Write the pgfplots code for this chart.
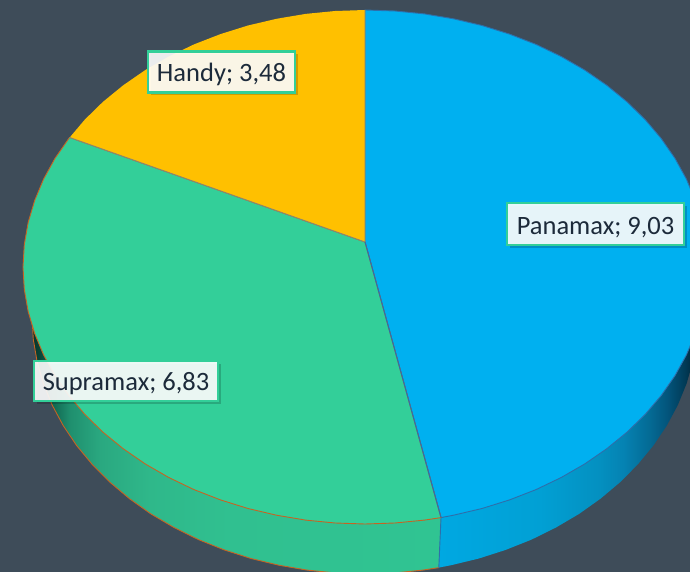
\documentclass[border=0pt]{standalone}
\usepackage{fontspec}
\setmainfont{Carlito}
\usepackage{pgfplots}
\pgfplotsset{compat=1.18}
\usetikzlibrary{shadows}
\definecolor{slateBg}{RGB}{62,76,89}
\definecolor{pieBlue}{RGB}{0,176,240}
\definecolor{pieGreen}{RGB}{51,207,153}
\definecolor{pieYellow}{RGB}{255,192,0}
\definecolor{edgeBlue}{RGB}{46,110,170}
\definecolor{edgeOrange}{RGB}{197,100,35}
\definecolor{edgeGrey}{RGB}{135,135,115}
\definecolor{labelInk}{RGB}{28,42,58}
\definecolor{gw0}{RGB}{6,50,40}
\definecolor{gw1}{RGB}{10,85,68}
\definecolor{gw2}{RGB}{31,143,110}
\definecolor{gw3}{RGB}{42,168,128}
\definecolor{gw4}{RGB}{47,184,138}
\definecolor{gw5}{RGB}{48,192,144}
\definecolor{gw6}{RGB}{48,196,146}
\definecolor{bw0}{RGB}{0,168,226}
\definecolor{bw1}{RGB}{1,160,212}
\definecolor{bw2}{RGB}{4,144,192}
\definecolor{bw2b}{RGB}{5,130,178}
\definecolor{bw3}{RGB}{4,106,148}
\definecolor{bw3b}{RGB}{3,85,124}
\definecolor{bw4}{RGB}{1,58,86}
\definecolor{bw5}{RGB}{0,32,47}
\pgfdeclarehorizontalshading{wallGreen}{100bp}{
  color(0bp)=(gw0);
  color(25bp)=(gw0);
  color(26.6bp)=(gw1);
  color(29.6bp)=(gw2);
  color(33.3bp)=(gw3);
  color(39.4bp)=(gw4);
  color(49.2bp)=(gw5);
  color(75bp)=(gw6);
  color(100bp)=(gw6)}
\pgfdeclarehorizontalshading{wallBlue}{100bp}{
  color(0bp)=(bw0);
  color(25bp)=(bw0);
  color(44.5bp)=(bw1);
  color(56bp)=(bw2);
  color(60.7bp)=(bw2b);
  color(65.7bp)=(bw3);
  color(69bp)=(bw3b);
  color(72.5bp)=(bw4);
  color(75bp)=(bw5);
  color(100bp)=(bw5)}
\tikzset{pielabel/.style={draw=pieGreen, line width=2.8pt, fill=white, fill opacity=0.9,
  text opacity=1, text=labelInk, inner sep=0pt, anchor=center,
  font=\fontsize{26.5}{30}\selectfont,
  drop shadow={shadow xshift=3pt, shadow yshift=-3pt, opacity=0.18, fill=black}}}
\newcommand{\lbl}[2]{\raisebox{#1}[0pt][0pt]{#2}}

\begin{document}
\begin{tikzpicture}
\path[use as bounding box] (0,0) rectangle (690pt,572pt);
\begin{axis}[
  at={(0,0)}, anchor=south west,
  width=690pt, height=572pt,
  scale only axis,
  hide axis,
  xmin=0, xmax=690,
  ymin=0, ymax=572,
  y dir=reverse,
  enlargelimits=false,
  clip=true,
]
%% background
\addplot[draw=none, fill=slateBg, forget plot] coordinates {(0,0) (690,0) (690,572) (0,572)} --cycle;
%% side wall, green
\addplot[draw=none, shade, shading=wallGreen] coordinates {
  (441,517.6) (438.8,567.6) (422.8,570.1) (394,573) (365,574) (336,573) (307.2,570.1) (278.8,565.2)
  (251.1,558.5) (224.3,549.9) (198.5,539.6) (174,527.5) (150.9,513.9) (129.5,498.7) (109.9,482.2)
  (92.2,464.4) (76.6,445.5) (63.2,425.6) (52.1,404.9) (43.4,383.5) (37.1,361.6) (33.3,339.4) (32,317)
} --cycle;
\addplot[edgeOrange, line width=0.9pt] coordinates {
  (438.8,567.6) (422.8,570.1) (394,573) (365,574) (336,573) (307.2,570.1) (278.8,565.2)
  (251.1,558.5) (224.3,549.9) (198.5,539.6) (174,527.5) (150.9,513.9) (129.5,498.7) (109.9,482.2)
  (92.2,464.4) (76.6,445.5) (63.2,425.6) (52.1,404.9) (43.4,383.5) (37.1,361.6) (33.3,339.4) (32,317)
};
%% side wall, blue
\addplot[draw=none, shade, shading=wallBlue] coordinates {
  (441,517.6) (438.8,567.6) (451.2,565.2) (478.9,558.5) (505.7,549.9) (531.5,539.6) (556,527.5)
  (579.1,513.9) (600.5,498.7) (620.1,482.2) (637.8,464.4) (653.4,445.5) (666.8,425.6) (677.9,404.9)
  (686.6,383.5) (692.9,361.6) (696.7,339.4) (698,317)
} --cycle;
\addplot[edgeBlue, line width=0.9pt] coordinates {(441,517.6) (438.8,567.6)};
%% top face, Panamax 9,03
\addplot[draw=edgeBlue, line width=0.9pt, fill=pieBlue, line join=round] coordinates {
  (365,242) (365,10) (394.8,11) (424.4,13.9) (453.5,18.8) (482,25.5) (509.5,34.1) (536,44.4) (561.2,56.5)
  (584.8,70.1) (606.8,85.3) (627,101.8) (645.2,119.6) (661.2,138.5) (675,158.4) (686.4,179.1) (695.3,200.5)
  (701.8,222.4) (705.7,244.6) (707,267) (705.7,289.4) (701.8,311.6) (695.3,333.5) (686.4,354.9) (675,375.6)
  (661.2,395.5) (645.2,414.4) (627,432.2) (606.8,448.7) (584.8,463.9) (561.2,477.5) (536,489.6) (509.5,499.9)
  (482,508.5) (453.5,515.2) (441,517.6)
} --cycle;
%% top face, Supramax 6,83
\addplot[draw=edgeOrange, line width=0.9pt, fill=pieGreen, line join=round] coordinates {
  (365,242) (441,517.6) (424.4,520.1) (394.8,523) (365,524) (335.2,523) (305.6,520.1) (276.5,515.2) (248,508.5)
  (220.5,499.9) (194,489.6) (168.8,477.5) (145.2,463.9) (123.2,448.7) (103,432.2) (84.8,414.4) (68.8,395.5)
  (55,375.6) (43.6,354.9) (34.7,333.5) (28.2,311.6) (24.3,289.4) (23,267) (24.3,244.6) (28.2,222.4) (34.7,200.5)
  (43.6,179.1) (55,158.4) (68.8,138.5) (69.7,137.5)
} --cycle;
%% top face, Handy 3,48
\addplot[draw=none, fill=pieYellow, line join=round] coordinates {
  (365,242) (69.7,137.5) (84.8,119.6) (103,101.8) (123.2,85.3) (145.2,70.1) (168.8,56.5) (194,44.4) (220.5,34.1)
  (248,25.5) (276.5,18.8) (305.6,13.9) (335.2,11) (365,10)
} --cycle;
%% spokes on top of the slices
\addplot[edgeGrey, line width=0.9pt] coordinates {(365,10) (365,242) (69.7,137.5)};
\addplot[edgeBlue, line width=1pt] coordinates {(365,242) (441,517.6)};
\node[pielabel, minimum width=147pt, minimum height=41pt] at (axis cs:221.5,72) {\lbl{-9.7pt}{Handy; 3,48}};
\node[pielabel, minimum width=177pt, minimum height=42pt] at (axis cs:595.5,224) {\lbl{-10pt}{Panamax; 9,03}};
\node[pielabel, minimum width=184pt, minimum height=40pt] at (axis cs:126,381) {\lbl{-9pt}{Supramax; 6,83}};
\end{axis}
\end{tikzpicture}
\end{document}
